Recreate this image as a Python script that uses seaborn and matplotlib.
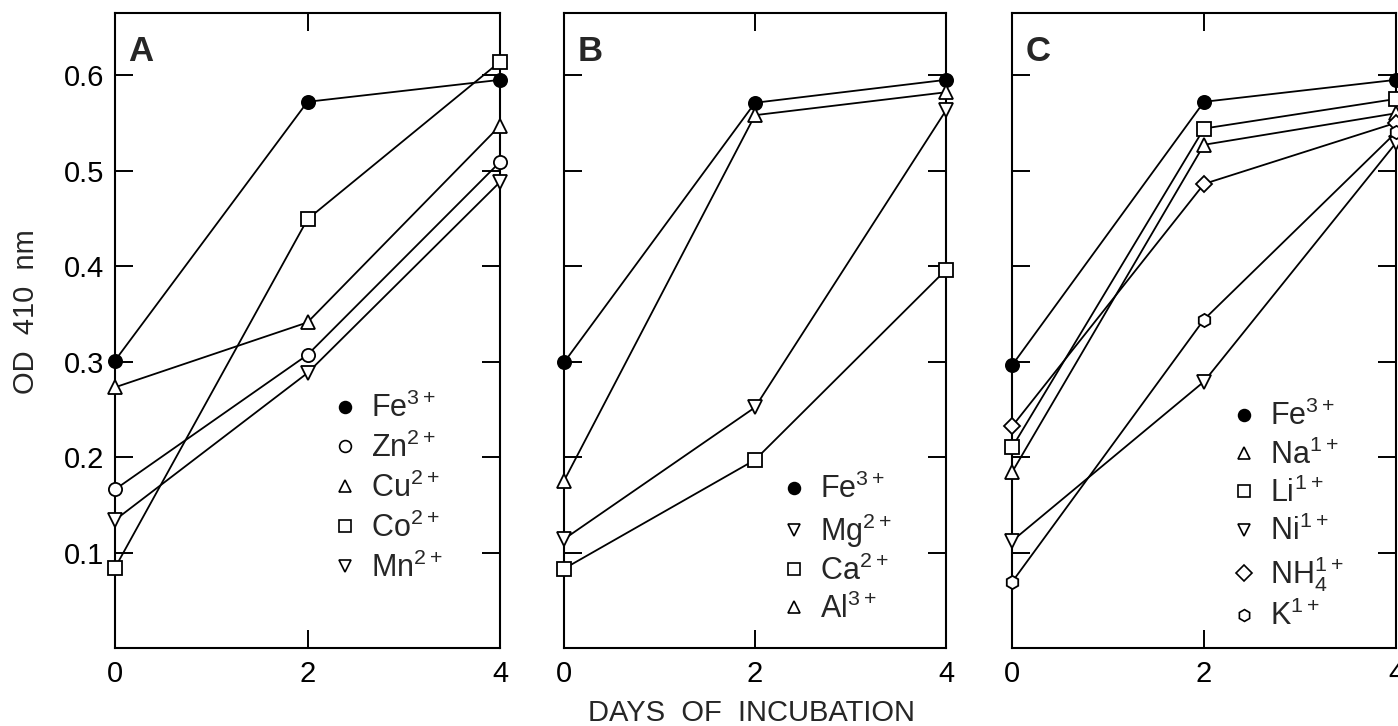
import numpy as np
import pandas as pd
import matplotlib
matplotlib.use("Agg")
import matplotlib.pyplot as plt
from matplotlib.lines import Line2D
import seaborn as sns

sns.set_theme(style="ticks")
plt.rcParams.update({
    "font.family": ["Liberation Sans", "DejaVu Sans"],
    "mathtext.default": "regular",
    "axes.linewidth": 1.5,
})

days = [0, 2, 4]

# panel A
ionsA = ["Fe$^{3+}$", "Zn$^{2+}$", "Cu$^{2+}$", "Co$^{2+}$", "Mn$^{2+}$"]
valsA = [
    [0.301, 0.572, 0.595],
    [0.166, 0.307, 0.509],
    [0.273, 0.341, 0.547],
    [0.084, 0.449, 0.614],
    [0.134, 0.288, 0.488],
]
markA = ["o", "o", "^", "s", "v"]

# panel B
ionsB = ["Fe$^{3+}$", "Mg$^{2+}$", "Ca$^{2+}$", "Al$^{3+}$"]
valsB = [
    [0.299, 0.571, 0.595],
    [0.114, 0.252, 0.563],
    [0.083, 0.197, 0.396],
    [0.175, 0.558, 0.582],
]
markB = ["o", "v", "s", "^"]

# panel C
ionsC = ["Fe$^{3+}$", "Na$^{1+}$", "Li$^{1+}$", "Ni$^{1+}$", "NH$_4^{1+}$", "K$^{1+}$"]
valsC = [
    [0.296, 0.572, 0.595],
    [0.184, 0.527, 0.560],
    [0.210, 0.544, 0.575],
    [0.112, 0.279, 0.529],
    [0.232, 0.486, 0.550],
    [0.069, 0.344, 0.540],
]
markC = ["o", "^", "s", "v", "D", "h"]

fig = plt.figure(figsize=(13.98, 7.26), dpi=100)

panels = [
    ("A", ionsA, valsA, markA, [115, 500], (348, 413), 0.28),
    ("B", ionsB, valsB, markB, [564, 946], (797, 494), 0.20),
    ("C", ionsC, valsC, markC, [1012, 1396], (1247, 421), 0.23),
]

W, H = 1398, 726
for i, (name, ions, vals, marks, xr, legpos, lsp) in enumerate(panels):
    ax = fig.add_axes([xr[0] / W, 1 - 648 / H, (xr[1] - xr[0]) / W, (648 - 13) / H])
    for ion, v, m in zip(ions, vals, marks):
        filled = ion.startswith("Fe")
        ms = 9.5 if m != "D" else 8.5
        sns.lineplot(x=days, y=v, ax=ax, color="black", lw=1.3, marker=m,
                     markersize=ms, markerfacecolor="black" if filled else "white",
                     markeredgecolor="black", markeredgewidth=1.3, clip_on=False,
                     zorder=3)
    ax.set_xlim(0, 4)
    ax.set_ylim(0, 0.665)
    ax.set_xticks(days)
    ax.set_yticks([0.1, 0.2, 0.3, 0.4, 0.5, 0.6])
    ax.tick_params(direction="in", length=13, width=1.4, top=True, right=True,
                   labelsize=21, pad=8, colors="black")
    ax.tick_params(axis="x", pad=9)
    if i == 0:
        ax.set_yticklabels(["0.1", "0.2", "0.3", "0.4", "0.5", "0.6"])
        ax.set_ylabel("OD  410  nm", fontsize=21)
        ax.yaxis.set_label_coords(-0.195, 0.53)
    else:
        ax.set_yticklabels([])
    ax.set_xlabel("")
    for s in ax.spines.values():
        s.set_visible(True)
        s.set_color("black")
    ax.text(0.035, 0.965, name, transform=ax.transAxes, fontsize=25,
            fontweight="bold", va="top", ha="left")

    # legend, markers only
    handles = []
    for ion, m in zip(ions, marks):
        filled = ion.startswith("Fe")
        handles.append(Line2D([], [], ls="none", marker=m, markersize=8.5,
                              markerfacecolor="black" if filled else "white",
                              markeredgecolor="black", markeredgewidth=1.2))
    lx = (legpos[0] - 14) / W
    ly = 1 - (legpos[1] - 20) / H
    fig.legend(handles, ions, loc="upper left", bbox_to_anchor=(lx, ly),
               frameon=False, fontsize=22, handlelength=0.7, handletextpad=0.5,
               labelspacing=lsp, borderaxespad=0, borderpad=0)

fig.text(751 / W, 1 - 713 / H, "DAYS  OF  INCUBATION", ha="center", va="center",
         fontsize=21)

fig.savefig("out.png", dpi=100, facecolor="white")
